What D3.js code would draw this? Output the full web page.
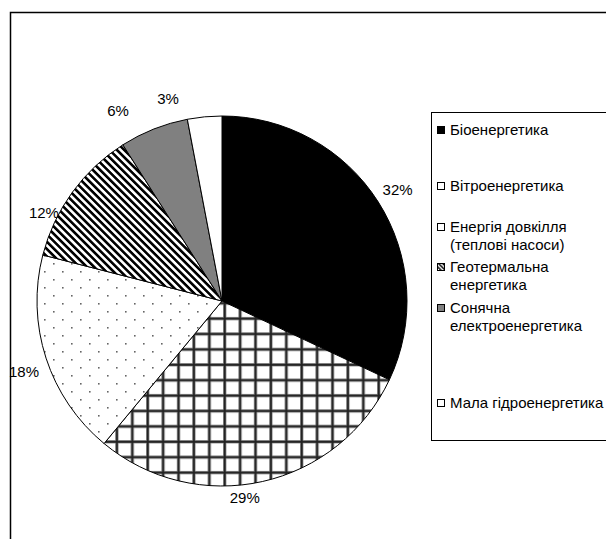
<!DOCTYPE html>
<html>
<head>
<meta charset="utf-8">
<script src="https://cdnjs.cloudflare.com/ajax/libs/d3/7.8.5/d3.min.js"></script>
<style>
  html, body { margin: 0; padding: 0; background: #fff; }
  svg { display: block; font-family: Arial, "Liberation Sans", sans-serif; }
</style>
</head>
<body>
<svg id="chart" width="606" height="539"></svg>
<script>
// Structure of renewable energy sources, share in percent
const categories = [
  "Біоенергетика",
  "Вітроенергетика",
  "Енергія довкілля (теплові насоси)",
  "Геотермальна енергетика",
  "Сонячна електроенергетика",
  "Мала гідроенергетика"
];
const shares = [32, 29, 18, 12, 6, 3];
// legend text broken into lines
const legendLines = [
  ["Біоенергетика"],
  ["Вітроенергетика"],
  ["Енергія довкілля", "(теплові насоси)"],
  ["Геотермальна", "енергетика"],
  ["Сонячна", "електроенергетика"],
  ["Мала гідроенергетика"]
];
const fills = ["#000000", "url(#grid)", "url(#dots)", "url(#stripes)", "#808080", "#ffffff"];
const swatchFills = ["#000000", "#ffffff", "#ffffff", "url(#stripesSmall)", "#808080", "#ffffff"];

const svg = d3.select("#chart");
const defs = svg.append("defs");
const fontSize = 15;

// cross-hatch grid
const gs = 15.4;
const grid = defs.append("pattern").attr("id", "grid")
  .attr("patternUnits", "userSpaceOnUse")
  .attr("width", gs).attr("height", gs)
  .attr("x", 1).attr("y", 0.5);
grid.append("rect").attr("width", gs).attr("height", gs).attr("fill", "#fff");
grid.append("rect").attr("width", 3.4).attr("height", gs).attr("fill", "#999");
grid.append("rect").attr("width", gs).attr("height", 3.4).attr("fill", "#999");
grid.append("rect").attr("x", 0.7).attr("width", 2).attr("height", gs).attr("fill", "#222");
grid.append("rect").attr("y", 0.7).attr("width", gs).attr("height", 2).attr("fill", "#222");

// sparse dots
const dots = defs.append("pattern").attr("id", "dots")
  .attr("patternUnits", "userSpaceOnUse")
  .attr("width", 18).attr("height", 16);
dots.append("rect").attr("width", 18).attr("height", 16).attr("fill", "#fff");
dots.append("rect").attr("x", 2).attr("y", 2).attr("width", 1.6).attr("height", 1.6).attr("fill", "#666");
dots.append("rect").attr("x", 11).attr("y", 10).attr("width", 1.6).attr("height", 1.6).attr("fill", "#666");

// diagonal stripes
function stripePattern(id, period) {
  const p = defs.append("pattern").attr("id", id)
    .attr("patternUnits", "userSpaceOnUse")
    .attr("width", period).attr("height", period)
    .attr("patternTransform", "rotate(-45)");
  p.append("rect").attr("width", period).attr("height", period).attr("fill", "#fff");
  p.append("rect").attr("width", period / 2).attr("height", period).attr("fill", "#000");
}
stripePattern("stripes", 5.2);
stripePattern("stripesSmall", 3);

// outer chart frame
svg.append("rect")
  .attr("x", 10.5).attr("y", 12.5)
  .attr("width", 700).attr("height", 700)
  .attr("fill", "none").attr("stroke", "#000").attr("stroke-width", 1.5);

// pie
const cx = 222, cy = 301, radius = 185;
const pie = d3.pie().sort(null).value(d => d)(shares);
const arc = d3.arc().innerRadius(0).outerRadius(radius);

// label placement: angle shift (degrees) and gap beyond the rim, per slice
const labelShift = [0, 6, -1.5, -9.5, -7, -9.5];
const labelGap = [23, 13, 25, 14, 32, 25];

const g = svg.append("g").attr("transform", `translate(${cx},${cy})`);
g.selectAll("path.slice")
  .data(pie)
  .join("path")
  .attr("class", "slice")
  .attr("d", arc)
  .attr("fill", (d, i) => fills[i])
  .attr("stroke", "#000")
  .attr("stroke-width", 1)
  .attr("stroke-linejoin", "round");

g.selectAll("text.pct")
  .data(pie)
  .join("text")
  .attr("class", "pct")
  .attr("transform", (d, i) => {
    const a = (d.startAngle + d.endAngle) / 2 + labelShift[i] * Math.PI / 180;
    const r = radius + labelGap[i];
    return `translate(${r * Math.sin(a)},${-r * Math.cos(a)})`;
  })
  .attr("text-anchor", "middle")
  .attr("dominant-baseline", "central")
  .attr("font-size", fontSize)
  .attr("fill", "#000")
  .text(d => d.data + "%");

// legend
const legend = svg.append("g");
legend.append("rect")
  .attr("x", 431.5).attr("y", 112.5)
  .attr("width", 300).attr("height", 328)
  .attr("fill", "#fff").attr("stroke", "#000").attr("stroke-width", 1);

const lineH = 18;
const entryBaselines = [135, 191, 232, 272, 313, 408];
legendLines.forEach((lines, i) => {
  const base = entryBaselines[i];
  legend.append("rect")
    .attr("x", 437.5).attr("y", base - 8.5)
    .attr("width", 7).attr("height", 7)
    .attr("fill", swatchFills[i]).attr("stroke", "#000").attr("stroke-width", 1);
  lines.forEach((t, k) => {
    legend.append("text")
      .attr("x", 450).attr("y", base + k * lineH)
      .attr("font-size", fontSize)
      .attr("fill", "#000")
      .text(t);
  });
});
</script>
</body>
</html>
